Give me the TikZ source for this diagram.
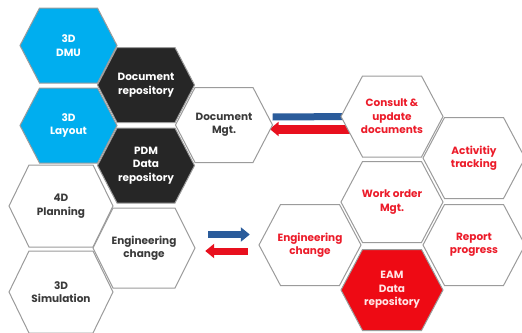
\documentclass[tikz,border=0pt]{standalone}
\usepackage{fontspec}
\setmainfont{Poppins}
\usetikzlibrary{arrows.meta,backgrounds}

\definecolor{hexblue}{HTML}{00AEEF}
\definecolor{hexdark}{HTML}{262626}
\definecolor{hexred}{HTML}{EE0A14}
\definecolor{edgegray}{HTML}{9B9B9B}
\definecolor{txtgray}{HTML}{3A3A3A}
\definecolor{txtred}{HTML}{EC1C2A}
\definecolor{arrblue}{HTML}{2B5C9B}
\definecolor{arrred}{HTML}{E8101E}

% hexagon cell: name, x, y, fill, text colour, text
\newcommand{\hexcell}[6]{%
  \filldraw[cell,fill=#4] (#2-\ha,#3) -- (#2-\hb,#3-\hh) -- (#2+\hb,#3-\hh) -- (#2+\ha,#3)
    -- (#2+\hb,#3+\hh) -- (#2-\hb,#3+\hh) -- cycle;
  \node[celltext,text=#5,minimum width=2*\ha,minimum height=2*\hh] (#1) at (#2,#3) {#6};}

\begin{document}
\begin{tikzpicture}[x=1pt,y=-1pt,
  cell/.style={draw=edgegray,line width=1pt},
  celltext/.style={inner sep=0pt,align=center,font=\fontsize{10.5}{13.5}\selectfont\bfseries},
  flow/.style={line width=7pt,-{Triangle[length=9pt,width=14pt]}}]
\clip (0,0) rectangle (522,332);

% PLM side
\def\ha{48.5}\def\hb{29}\def\hh{37.5}
\hexcell{dmu}{68.5}{45.5}{hexblue}{white}{3D\\DMU}
\hexcell{docrepo}{146}{85}{hexdark}{white}{Document\\repository}
\hexcell{layout}{68.5}{125.5}{hexblue}{white}{3D\\Layout}
\hexcell{pdm}{146}{165.5}{hexdark}{white}{PDM\\Data\\repository}
\hexcell{docmgt}{224}{125}{white}{txtgray}{Document\\Mgt.}
\def\ha{52}\def\hb{32}\def\hh{41}
\hexcell{planning}{61}{206}{white}{txtgray}{4D\\Planning}
\hexcell{simul}{61}{292}{white}{txtgray}{3D\\Simulation}
\def\ha{51}\def\hb{31}\def\hh{40}
\hexcell{engl}{144}{248}{white}{txtgray}{Engineering\\change}

% EAM side
\def\ha{51}\def\hb{29.5}\def\hh{40.5}
\hexcell{consult}{392}{116.5}{white}{txtred}{Consult \&\\update\\documents}
\hexcell{activity}{474}{158}{white}{txtred}{Activitiy\\tracking}
\hexcell{workorder}{392}{202}{white}{txtred}{Work order\\Mgt.}
\hexcell{engr}{310}{245}{white}{txtred}{Engineering\\change}
\hexcell{report}{474}{245}{white}{txtred}{Report\\progress}
\hexcell{eam}{392}{290}{hexred}{white!90!red}{EAM\\Data\\repository}

% exchanges, behind the cells
\begin{pgfonlayer}{background}
\draw[flow,arrblue] ([yshift=8pt]docmgt.east) -- ([xshift=14pt]consult.west);
\draw[flow,arrred,line width=9pt] ([xshift=14pt,yshift=-12.5pt]consult.west) -- ([xshift=-3pt,yshift=-4pt]docmgt.east);
\end{pgfonlayer}
\draw[flow,arrblue] ([xshift=13pt,yshift=13.5pt]engl.east) -- ([xshift=-9pt,yshift=10.5pt]engr.west);
\draw[flow,arrred] ([xshift=-11pt,yshift=-6pt]engr.west) -- ([xshift=10pt,yshift=-3pt]engl.east);
\end{tikzpicture}
\end{document}
